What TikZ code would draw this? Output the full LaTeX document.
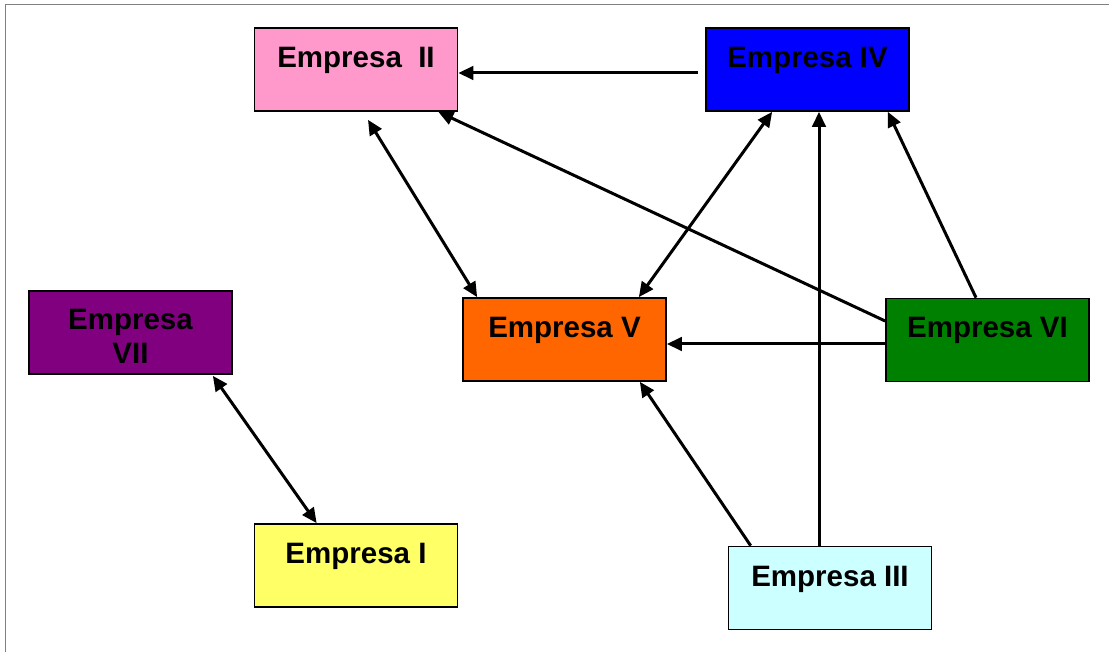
\documentclass[tikz,border=0pt]{standalone}
\usepackage{fontspec}
\setmainfont{Liberation Sans}
\usetikzlibrary{arrows.meta,positioning}
\definecolor{empPink}{HTML}{FF99CC}
\definecolor{empBlue}{HTML}{0000FF}
\definecolor{empPurple}{HTML}{800080}
\definecolor{empOrange}{HTML}{FF6600}
\definecolor{empGreen}{HTML}{008000}
\definecolor{empYellow}{HTML}{FFFF66}
\definecolor{empCyan}{HTML}{CCFFFF}
\tikzset{
  emp diagram/.style={font=\fontsize{29.5}{34}\selectfont\bfseries,
    line join=miter},
  emp box/.style={draw=black, line width=1.7pt, minimum width=203pt,
    minimum height=83pt, inner sep=0pt, align=center,
    text height=39.5pt, text depth=43.5pt},
  emp arrow/.style={-{Triangle[length=15pt,width=13.5pt]}, line width=3pt},
  emp both/.style={emp arrow, {Triangle[length=15pt,width=13.5pt]}-{Triangle[length=15pt,width=13.5pt]}},
  emp frame/.style={draw=black!50, line width=1.8pt}
}
\begin{document}
\begin{tikzpicture}[emp diagram,x=1pt,y=-1pt]
\useasboundingbox (0,0) rectangle (1109,652);
\draw[emp frame] (5.5,652) -- (5.5,4.5) -- (1109,4.5);
% companies
\foreach \name/\x/\y/\col/\txt in {eI/356/565.5/empYellow/{Empresa I},
  eII/356/69.5/empPink/{Empresa\ \ II},eIII/830/588/empCyan/{Empresa III},
  eIV/807.5/69.5/empBlue/{Empresa IV},eV/564.5/339.5/empOrange/{Empresa V},
  eVI/987.5/340/empGreen/{Empresa VI}}
  \node[emp box, fill=\col] (\name) at (\x,\y) {\txt};
\node[emp box, fill=empPurple, text height=73pt, text depth=10pt] (eVII) at (130.5,332.5) {Empresa\\VII};
% links
\draw[emp arrow] ([xshift=-7pt,yshift=-3.5pt]eIV.west) -- ([yshift=-3.5pt]eII.east);
\draw[emp both] ([xshift=12pt,yshift=-8pt]eII.south) -- ([xshift=15pt]eV.north west);
\draw[emp arrow] ([yshift=19pt]eVI.west) -- ([xshift=-20pt]eII.south east);
\draw[emp both] ([xshift=67pt]eIV.south west) -- ([xshift=-28pt]eV.north east);
\draw[emp arrow] ([xshift=-11pt]eIII.north) coordinate (up) -- (up |- eIV.south);
\draw[emp arrow] ([xshift=-11.5pt]eVI.north) -- ([xshift=-22pt]eIV.south east);
\draw[emp arrow] ([yshift=-4pt]eVI.west) coordinate (left) -- (left -| eV.east);
\draw[emp arrow] ([xshift=23pt]eIII.north west) -- ([xshift=-27pt]eV.south east);
\draw[emp both] ([xshift=-20pt,yshift=-1pt]eVII.south east) -- ([xshift=63pt]eI.north west);
\end{tikzpicture}
\end{document}
